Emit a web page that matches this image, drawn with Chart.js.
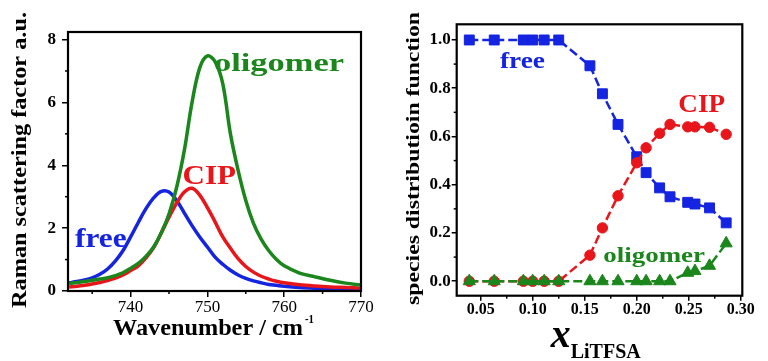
<!DOCTYPE html>
<html><head><meta charset="utf-8">
<script src="https://cdn.jsdelivr.net/npm/chart.js@4"></script>
<style>
html,body{margin:0;padding:0;background:#fff;}
#wrap{position:relative;width:768px;height:361px;overflow:hidden;background:#fff;}
canvas{position:absolute;top:0;}
</style></head>
<body><div id="wrap">
<canvas id="left" width="384" height="361" style="left:0"></canvas>
<canvas id="right" width="384" height="361" style="left:384px"></canvas>
</div>
<script>
// ---------- Left panel data: Raman scattering factor ----------
const wavenumbers = [732,733,734,735,736,737,738,739,740,741,742,743,744,745,746,747,748,749,750,751,752,753,754,755,756,757,758,759,760,762,764,766,768,770];
const ramanFree = [0.26,0.30,0.35,0.42,0.53,0.70,0.95,1.28,1.72,2.18,2.62,2.96,3.17,3.15,2.88,2.48,2.08,1.72,1.40,1.08,0.85,0.66,0.51,0.40,0.32,0.26,0.21,0.18,0.15,0.11,0.09,0.07,0.06,0.05];
const ramanCIP = [0.13,0.15,0.18,0.22,0.27,0.33,0.41,0.51,0.65,0.80,1.05,1.38,1.85,2.35,2.80,3.15,3.27,3.05,2.65,2.20,1.72,1.36,1.03,0.78,0.60,0.47,0.38,0.31,0.26,0.20,0.16,0.13,0.11,0.09];
const ramanOligomer = [0.24,0.27,0.30,0.34,0.38,0.42,0.49,0.58,0.72,0.88,1.10,1.40,1.85,2.45,3.30,4.48,6.00,7.10,7.48,7.30,6.60,5.00,3.84,2.88,2.15,1.65,1.28,1.00,0.80,0.57,0.45,0.34,0.25,0.19];
const ramanXTicks = [740,750,760,770];
const ramanYTicks = [0,2,4,6,8];

// ---------- Right panel data: species distribution ----------
const xLiTFSA = [0.039,0.063,0.091,0.100,0.111,0.125,0.155,0.167,0.182,0.200,0.209,0.222,0.232,0.249,0.256,0.270,0.286];
const fracFree = [1,1,1,1,1,1,0.893,0.777,0.650,0.516,0.450,0.387,0.350,0.327,0.320,0.304,0.242];
const fracCIP = [0,0,0,0,0,0,0.108,0.221,0.354,0.491,0.553,0.613,0.650,0.640,0.640,0.638,0.609];
const fracOligomer = [0,0,0,0,0,0,0,0,0,0,0,0,0,0.035,0.042,0.064,0.157];
const fracXTicks = [0.05,0.10,0.15,0.20,0.25,0.30];
const fracYTicks = [0,0.2,0.4,0.6,0.8,1.0];

const SERIF = "'Liberation Serif','Times New Roman',serif";
const BLUE = '#1424e0', RED = '#e8161b', GREEN = '#1a861c';

function scaledText(ctx, t) {
  ctx.save();
  ctx.font = t.font;
  ctx.fillStyle = t.color;
  ctx.textAlign = 'left';
  ctx.textBaseline = 'alphabetic';
  ctx.translate(t.x, t.y);
  if (t.rotate) ctx.rotate(-Math.PI / 2);
  const w = ctx.measureText(t.text).width;
  if (t.width) ctx.scale(t.width / w, 1);
  ctx.fillText(t.text, 0, 0);
  ctx.restore();
}

function makeFrame(texts, minorLen) {
  return {
    id: 'frame',
    afterDraw(chart) {
      const {ctx, chartArea: a, scales} = chart;
      ctx.save();
      ctx.strokeStyle = '#000';
      ctx.lineWidth = 1.5;
      ['x', 'y'].forEach(id => {
        const s = scales[id];
        const t = s.ticks.map(k => k.value);
        const step = t[1] - t[0];
        for (let k = -10; k <= t.length + 10; k++) {
          const v = t[0] + (k + 0.5) * step;
          if (v < s.min - 1e-9 || v > s.max + 1e-9) continue;
          const p = s.getPixelForValue(v);
          ctx.beginPath();
          if (id === 'x') { ctx.moveTo(p, a.bottom); ctx.lineTo(p, a.bottom + minorLen); }
          else { ctx.moveTo(a.left, p); ctx.lineTo(a.left - minorLen, p); }
          ctx.stroke();
        }
      });
      ctx.lineWidth = 2.2;
      ctx.strokeRect(a.left, a.top, a.right - a.left, a.bottom - a.top);
      ctx.restore();
      texts.forEach(t => scaledText(ctx, t));
    }
  };
}

function axis(opts) {
  return Object.assign({
    type: 'linear',
    border: {display: false},
    grid: {display: true, drawOnChartArea: false, drawTicks: true, tickLength: opts.tl, color: '#000', lineWidth: 1.5},
  }, opts.rest);
}

// ---------- Left chart ----------
const pts = (xs, ys) => xs.map((x, i) => ({x, y: ys[i]}));

new Chart(document.getElementById('left'), {
  type: 'line',
  data: {datasets: [
    {label: 'oligomer', data: pts(wavenumbers, ramanOligomer), borderColor: GREEN, order: 0},
    {label: 'CIP', data: pts(wavenumbers, ramanCIP), borderColor: RED, order: 1},
    {label: 'free', data: pts(wavenumbers, ramanFree), borderColor: BLUE, order: 2}
  ]},
  options: {
    responsive: false, animation: false, devicePixelRatio: 1,
    layout: {padding: {left: 0, top: 32, right: 23, bottom: 0}},
    elements: {line: {borderWidth: 3.5, tension: 0.35, fill: false, capBezierPoints: true}, point: {radius: 0}},
    plugins: {legend: {display: false}, tooltip: {enabled: false}},
    scales: {
      x: axis({tl: 6, rest: {
        min: 731.85, max: 770,
        afterBuildTicks: s => { s.ticks = ramanXTicks.map(v => ({value: v})); },
        afterFit: s => { s.height = 70; },
        ticks: {font: {family: SERIF, size: 17, lineHeight: 1}, color: '#000', padding: 2, maxRotation: 0, autoSkip: false}
      }}),
      y: axis({tl: 6, rest: {
        min: 0, max: 8.24,
        afterBuildTicks: s => { s.ticks = ramanYTicks.map(v => ({value: v})); },
        afterFit: s => { s.width = 68; },
        ticks: {font: {family: SERIF, size: 17, weight: 'bold'}, color: '#000', padding: 6}
      }})
    }
  },
  plugins: [makeFrame([
    {text: 'Raman scattering factor a.u.', x: 26, y: 308, rotate: true, font: `bold 20px ${SERIF}`, color: '#000', width: 296},
    {text: 'Wavenumber / cm', x: 113, y: 335, font: `bold 23px ${SERIF}`, color: '#000', width: 190},
    {text: '-1', x: 305, y: 323, font: `bold 12px ${SERIF}`, color: '#000', width: 9},
    {text: 'oligomer', x: 214, y: 71, font: `bold 25px ${SERIF}`, color: GREEN, width: 130},
    {text: 'CIP', x: 182.5, y: 184, font: `bold 27px ${SERIF}`, color: RED, width: 53.5},
    {text: 'free', x: 75, y: 246.7, font: `bold 28px ${SERIF}`, color: BLUE, width: 51.7}
  ], 3)]
});

// ---------- Right chart ----------
const dash = [9, 4];
new Chart(document.getElementById('right'), {
  type: 'line',
  data: {datasets: [
    {label: 'oligomer', data: pts(xLiTFSA, fracOligomer), borderColor: GREEN, backgroundColor: GREEN, pointStyle: 'triangle', pointRadius: 7, order: 0},
    {label: 'CIP', data: pts(xLiTFSA, fracCIP), borderColor: RED, backgroundColor: RED, pointStyle: 'circle', pointRadius: 5.2, order: 1},
    {label: 'free', data: pts(xLiTFSA, fracFree), borderColor: BLUE, backgroundColor: BLUE, pointStyle: 'rect', pointRadius: 7, order: 2}
  ]},
  options: {
    responsive: false, animation: false, devicePixelRatio: 1,
    layout: {padding: {left: 0, top: 24.3, right: 25.7, bottom: 0}},
    elements: {line: {borderWidth: 2.5, borderDash: dash, tension: 0, fill: false}, point: {borderWidth: 1}},
    plugins: {legend: {display: false}, tooltip: {enabled: false}},
    scales: {
      x: axis({tl: 5, rest: {
        min: 0.0269, max: 0.3015,
        afterBuildTicks: s => { s.ticks = fracXTicks.map(v => ({value: v})); },
        afterFit: s => { s.height = 65.3; },
        ticks: {font: {family: SERIF, size: 16, weight: 'bold', lineHeight: 1}, color: '#000', padding: 1, maxRotation: 0, autoSkip: false,
          callback: v => Number(v).toFixed(2)}
      }}),
      y: axis({tl: 5, rest: {
        min: -0.06, max: 1.065,
        afterBuildTicks: s => { s.ticks = fracYTicks.map(v => ({value: v})); },
        afterFit: s => { s.width = 72.7; },
        ticks: {font: {family: SERIF, size: 17, weight: 'bold'}, color: '#000', padding: 1,
          callback: v => Number(v).toFixed(1)}
      }})
    }
  },
  plugins: [makeFrame([
    {text: 'species distributioin function', x: 35, y: 305, rotate: true, font: `bold 19px ${SERIF}`, color: '#000', width: 293},
    {text: 'x', x: 166.7, y: 346.7, font: `italic bold 40px ${SERIF}`, color: '#000', width: 20},
    {text: 'LiTFSA', x: 186.7, y: 358.3, font: `bold 21px ${SERIF}`, color: '#000', width: 70},
    {text: 'free', x: 116, y: 68.3, font: `bold 24px ${SERIF}`, color: BLUE, width: 45},
    {text: 'CIP', x: 294.3, y: 111.7, font: `bold 25px ${SERIF}`, color: RED, width: 46.7},
    {text: 'oligomer', x: 219.3, y: 261.7, font: `bold 22px ${SERIF}`, color: GREEN, width: 101.7}
  ], 3)]
});
</script>
</body></html>
